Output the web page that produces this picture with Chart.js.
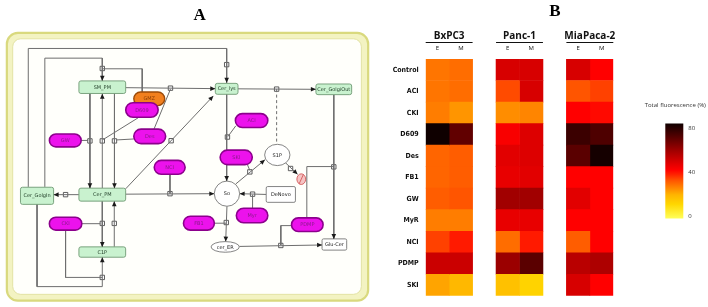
<!DOCTYPE html>
<html>
<head>
<meta charset="utf-8">
<script src="https://cdn.jsdelivr.net/npm/chart.js@4.4.0/dist/chart.umd.min.js"></script>
<style>
body { margin: 0; background: #fff; }
#wrapA { position: absolute; left: 0; top: 0; width: 376px; height: 307px; }
#wrapB { position: absolute; left: 376px; top: 0; width: 332px; height: 307px; }
</style>
</head>
<body>
<div id="wrapA"><canvas id="network-chart"></canvas></div>
<div id="wrapB"><canvas id="heatmap-chart"></canvas></div>
<script>
// ---- PANEL B data : total fluorescence (%) ----
const rowLabels = ['Control', 'ACI', 'CKI', 'D609', 'Des', 'FB1', 'GW', 'MyR', 'NCI', 'PDMP', 'SKI'];
const cellLines = ['BxPC3', 'Panc-1', 'MiaPaca-2'];
const conditions = ['E', 'M'];
const bxpc3E   = [28, 28, 27, 80, 30, 30, 31, 27, 34, 50, 22];
const bxpc3M   = [29, 29, 24, 67, 31, 31, 32, 27, 38, 50, 19];
const panc1E   = [48, 33, 25, 42, 46, 45, 57, 45, 29, 58, 17];
const panc1M   = [48, 48, 26, 47, 47, 46, 57, 45, 38, 68, 13];
const miapacaE = [48, 32, 41, 73, 68, 41, 46, 41, 31, 53, 48];
const miapacaM = [41, 34, 40, 70, 79, 41, 41, 41, 41, 55, 41];
const colorbarTicks = [0, 40, 80];
const colorbarTitle = 'Total fluorescence (%)';

// ---- PANEL A : network diagram (layout in diagram units = px) ----
const nodes = [
  { label: 'SM_PM', x: 100, y: 85, w: 48, h: 13, kind: 'comp' },
  { label: 'Cer_lys', x: 227.7, y: 86.7, w: 23.3, h: 11.3, kind: 'comp' },
  { label: 'Cer_GolgiOut', x: 337.7, y: 87.2, w: 36.7, h: 11, kind: 'comp' },
  { label: 'Cer_GolgIn', x: 33, y: 197.2, w: 34, h: 17.7, kind: 'comp' },
  { label: 'Cer_PM', x: 100, y: 196, w: 48, h: 13.4, kind: 'comp' },
  { label: 'C1P', x: 100, y: 255.3, w: 48, h: 10.7, kind: 'comp' },
  { label: 'GMZ', x: 148.2, y: 97, w: 31.7, h: 14, kind: 'orange' },
  { label: 'D609', x: 140.7, y: 108.5, w: 33.3, h: 15, kind: 'drug' },
  { label: 'Des', x: 148.7, y: 135.8, w: 32.7, h: 15, kind: 'drug' },
  { label: 'GW', x: 62, y: 140, w: 32.6, h: 13.4, kind: 'drug' },
  { label: 'ACI', x: 253.3, y: 119.5, w: 33.3, h: 14.4, kind: 'drug' },
  { label: 'SKI', x: 237.5, y: 157.5, w: 33, h: 15, kind: 'drug' },
  { label: 'NCI', x: 169.2, y: 167.8, w: 31.7, h: 14.3, kind: 'drug' },
  { label: 'CKI', x: 62.3, y: 226, w: 33.3, h: 13.4, kind: 'drug' },
  { label: 'FB1', x: 199.2, y: 225.5, w: 31.7, h: 14.4, kind: 'drug' },
  { label: 'Myr', x: 253.8, y: 217.5, w: 32.3, h: 15, kind: 'drug' },
  { label: 'PDMP', x: 310.5, y: 227, w: 32.4, h: 14, kind: 'drug' },
  { label: 'DeNovo', x: 283.3, y: 195.8, w: 30, h: 16.3, kind: 'box' },
  { label: 'Glu-Cer', x: 338.3, y: 247.5, w: 25.3, h: 11.6, kind: 'box' },
  { label: 'So', x: 228, y: 195, w: 26, h: 26, kind: 'oval' },
  { label: 'S1P', x: 279.7, y: 155, w: 26, h: 22, kind: 'oval' },
  { label: 'cer_ER', x: 226.2, y: 250, w: 29, h: 11, kind: 'oval' },
  { label: '', x: 304.3, y: 180, w: 9, h: 11, kind: 'sink' }
];

const edges = [
  { pts: [[24, 188], [24, 45], [227.7, 45], [227.7, 80.5]], arrow: true },
  { pts: [[41, 188], [41, 55], [100, 55], [100, 78.3]], arrow: true },
  { pts: [[100, 66], [141, 66], [141, 90]] },
  { pts: [[124, 85.5], [216, 86.5]], arrow: true },
  { pts: [[153, 128.5], [170, 87]] },
  { pts: [[239.3, 86.7], [319.3, 87.2]], arrow: true },
  { pts: [[279, 87], [279, 144]], dash: true },
  { pts: [[337.7, 92.7], [337.7, 241.7]], arrow: true },
  { pts: [[310, 220], [310, 167], [337.7, 167]] },
  { pts: [[294.3, 228], [283.3, 228], [283.3, 248]] },
  { pts: [[240.7, 249.5], [325.7, 248]], arrow: true },
  { pts: [[227.7, 92.3], [227.7, 182]], arrow: true },
  { pts: [[237, 125], [229, 136]] },
  { pts: [[237, 185], [267, 160]], arrow: true },
  { pts: [[249, 165], [251.5, 171]] },
  { pts: [[288, 163], [300.5, 175]], arrow: true },
  { pts: [[124, 195.5], [215, 195]], arrow: true },
  { pts: [[169.5, 175], [169.5, 195]] },
  { pts: [[124, 190], [214, 94]], arrow: true },
  { pts: [[136.7, 116.7], [101, 139]] },
  { pts: [[132.3, 138.5], [114.5, 139.5]] },
  { pts: [[78.3, 140], [85.5, 140]] },
  { pts: [[87.3, 91.7], [87.3, 189.3]], arrow: true },
  { pts: [[100, 189.3], [100, 91.7]], arrow: true },
  { pts: [[112.5, 91.7], [112.5, 189.3]], arrow: true },
  { pts: [[76, 196], [50, 196]], arrow: true },
  { pts: [[100, 202.7], [100, 250]], arrow: true },
  { pts: [[112.3, 250], [112.3, 202.7]], arrow: true },
  { pts: [[79, 226], [98, 226]] },
  { pts: [[62.3, 232.7], [62.3, 281.5], [100, 281.5]] },
  { pts: [[33, 206], [33, 291], [100, 291], [100, 260.7]], arrow: true },
  { pts: [[268.3, 195.8], [241, 195]], arrow: true },
  { pts: [[254.3, 210], [254.3, 196]] },
  { pts: [[228, 208], [226.7, 244.5]], arrow: true },
  { pts: [[215, 225.5], [227, 225.5]] }
];

const reactions = [
  [100, 65.7], [227.7, 61.7], [170, 86], [279, 87], [87.3, 140.5], [100, 140.5],
  [112.5, 140.5], [170.7, 140.3], [228.5, 136.5], [251.5, 172.5], [293.3, 169],
  [337.7, 167.3], [62.3, 196], [169.5, 195], [254.3, 195.5], [100, 225.7],
  [112.3, 225.7], [227.3, 224.8], [283.3, 248.5], [100, 281.5]
];

// colour map of panel B (value -> rgb)
const heatStops = [
  [0, [255, 255, 90]], [12, [255, 215, 0]], [20, [255, 180, 0]], [27, [255, 125, 0]],
  [32, [255, 85, 0]], [37, [255, 35, 0]], [41, [255, 0, 0]], [48, [215, 0, 0]],
  [58, [155, 0, 0]], [68, [90, 0, 0]], [80, [15, 0, 0]]
];
function heatColor(v) {
  v = Math.max(0, Math.min(80, v));
  for (let i = 1; i < heatStops.length; i++) {
    const [v1, c1] = heatStops[i];
    const [v0, c0] = heatStops[i - 1];
    if (v <= v1) {
      const t = (v - v0) / (v1 - v0);
      const c = c0.map((a, k) => Math.round(a + (c1[k] - a) * t));
      return 'rgb(' + c.join(',') + ')';
    }
  }
  return 'rgb(15,0,0)';
}

// ================= PANEL A =================
const networkPlugin = {
  id: 'network',
  beforeDatasetsDraw(chart) {
    const ctx = chart.ctx;
    const X = v => chart.scales.x.getPixelForValue(v);
    const Y = v => chart.scales.y.getPixelForValue(v);
    ctx.save();
    // title
    ctx.font = 'bold 17px "Liberation Serif", serif';
    ctx.fillStyle = '#000';
    ctx.textAlign = 'center';
    ctx.textBaseline = 'middle';
    ctx.fillText('A', X(200), Y(11));
    // frame
    ctx.beginPath();
    ctx.roundRect(X(2), Y(29), X(373) - X(2), Y(305.5) - Y(29), 11);
    ctx.fillStyle = '#f3f3c2';
    ctx.fill();
    ctx.lineWidth = 2.2;
    ctx.strokeStyle = '#d9d97e';
    ctx.stroke();
    ctx.beginPath();
    ctx.roundRect(X(8), Y(35), X(366) - X(8), Y(299) - Y(35), 8);
    ctx.fillStyle = '#fffffb';
    ctx.fill();
    ctx.lineWidth = 1;
    ctx.strokeStyle = '#e3e3a4';
    ctx.stroke();
    ctx.restore();
  },
  afterDatasetsDraw(chart) {
    const ctx = chart.ctx;
    const X = v => chart.scales.x.getPixelForValue(v);
    const Y = v => chart.scales.y.getPixelForValue(v);
    ctx.save();
    nodes.forEach(n => {
      const x0 = X(n.x - n.w / 2), y0 = Y(n.y - n.h / 2);
      const w = X(n.x + n.w / 2) - x0, h = Y(n.y + n.h / 2) - y0;
      ctx.beginPath();
      let textColor = '#222';
      if (n.kind === 'comp') {
        ctx.roundRect(x0, y0, w, h, 2);
        ctx.fillStyle = '#c9f2cf';
        ctx.strokeStyle = '#6f9a74';
        ctx.lineWidth = 0.9;
        textColor = '#23402a';
      } else if (n.kind === 'drug') {
        ctx.roundRect(x0, y0, w, h, h / 2);
        ctx.fillStyle = '#ec12ec';
        ctx.strokeStyle = '#8c008c';
        ctx.lineWidth = 1.6;
        textColor = '#8a1a8a';
      } else if (n.kind === 'orange') {
        ctx.roundRect(x0, y0, w, h, h / 2);
        ctx.fillStyle = '#f2801e';
        ctx.strokeStyle = '#9b4a08';
        ctx.lineWidth = 1.4;
        textColor = '#8a3c06';
      } else if (n.kind === 'box') {
        ctx.roundRect(x0, y0, w, h, 1.5);
        ctx.fillStyle = '#fff';
        ctx.strokeStyle = '#777';
        ctx.lineWidth = 0.9;
      } else if (n.kind === 'oval') {
        ctx.ellipse(X(n.x), Y(n.y), w / 2, h / 2, 0, 0, Math.PI * 2);
        ctx.fillStyle = '#fff';
        ctx.strokeStyle = '#777';
        ctx.lineWidth = 0.9;
      } else if (n.kind === 'sink') {
        ctx.ellipse(X(n.x), Y(n.y), w / 2, h / 2, 0, 0, Math.PI * 2);
        ctx.fillStyle = '#f6c4c4';
        ctx.strokeStyle = '#d25a5a';
        ctx.lineWidth = 0.9;
      }
      ctx.fill();
      ctx.stroke();
      if (n.kind === 'sink') {
        ctx.beginPath();
        ctx.moveTo(x0 + w * 0.25, y0 + h * 0.95);
        ctx.lineTo(x0 + w * 0.75, y0 + h * 0.05);
        ctx.stroke();
      }
      if (n.label) {
        ctx.font = '5px "DejaVu Sans", sans-serif';
        ctx.fillStyle = textColor;
        ctx.textAlign = 'center';
        ctx.textBaseline = 'middle';
        ctx.fillText(n.label, X(n.x), Y(n.y) + 0.3);
      }
    });
    // arrow heads
    chart.data.datasets.forEach((ds, i) => {
      if (!ds.arrow) return;
      const pts = chart.getDatasetMeta(i).data;
      const a = pts[pts.length - 2], b = pts[pts.length - 1];
      const ang = Math.atan2(b.y - a.y, b.x - a.x);
      const L = 5, H = 2.3;
      ctx.beginPath();
      ctx.moveTo(b.x, b.y);
      ctx.lineTo(b.x - L * Math.cos(ang) + H * Math.sin(ang), b.y - L * Math.sin(ang) - H * Math.cos(ang));
      ctx.lineTo(b.x - L * Math.cos(ang) - H * Math.sin(ang), b.y - L * Math.sin(ang) + H * Math.cos(ang));
      ctx.closePath();
      ctx.fillStyle = '#1a1a1a';
      ctx.fill();
    });
    ctx.restore();
  }
};

const edgeSets = edges.map(e => ({
  data: e.pts.map(p => ({ x: p[0], y: p[1] })),
  showLine: true,
  borderColor: '#6e6e6e',
  borderWidth: 1,
  borderDash: e.dash ? [3, 2.5] : [],
  pointRadius: 0,
  arrow: !!e.arrow,
  clip: false
}));

new Chart(document.getElementById('network-chart'), {
  type: 'scatter',
  data: {
    datasets: edgeSets.concat([{
      data: reactions.map(r => ({ x: r[0], y: r[1] })),
      pointStyle: 'rect',
      pointRadius: 3.1,
      backgroundColor: '#ffffff',
      borderColor: '#4d4d4d',
      borderWidth: 0.9,
      showLine: false,
      clip: false
    }])
  },
  options: {
    responsive: true,
    maintainAspectRatio: false,
    animation: false,
    layout: { padding: 0 },
    plugins: { legend: { display: false }, tooltip: { enabled: false } },
    scales: {
      x: { type: 'linear', min: 0, max: 376, display: false },
      y: { type: 'linear', min: 0, max: 307, reverse: true, display: false }
    }
  },
  plugins: [networkPlugin]
});

// ================= PANEL B =================
const columnValues = [[bxpc3E, bxpc3M], [panc1E, panc1M], [miapacaE, miapacaM]];
const heatSets = [];
columnValues.forEach((pair, g) => {
  pair.forEach((vals, k) => {
    const col = g * 3 + k;
    heatSets.push({
      label: cellLines[g] + ' ' + conditions[k],
      data: rowLabels.map(() => [col, col + 1]),
      backgroundColor: vals.map(heatColor),
      borderWidth: 0,
      barPercentage: 1,
      categoryPercentage: 1,
      grouped: false
    });
  });
});

const heatDecor = {
  id: 'heatDecor',
  afterDraw(chart) {
    const ctx = chart.ctx, xs = chart.scales.x, area = chart.chartArea;
    ctx.save();
    ctx.fillStyle = '#000';
    ctx.textAlign = 'center';
    ctx.textBaseline = 'middle';
    ctx.font = 'bold 17px "Liberation Serif", serif';
    ctx.fillText('B', 179, 12);

    // column headers
    cellLines.forEach((name, g) => {
      const c0 = g * 3;
      const xl = xs.getPixelForValue(c0), xr = xs.getPixelForValue(c0 + 2);
      ctx.font = 'bold 10px "Open Sans", sans-serif';
      ctx.fillStyle = '#111';
      ctx.fillText(name, (xl + xr) / 2, area.top - 23);
      ctx.beginPath();
      ctx.moveTo(xl, area.top - 16.5);
      ctx.lineTo(xr, area.top - 16.5);
      ctx.lineWidth = 1;
      ctx.strokeStyle = '#111';
      ctx.stroke();
      ctx.font = '6px "Open Sans", sans-serif';
      conditions.forEach((c, k) => {
        ctx.fillText(c, xs.getPixelForValue(c0 + k + 0.5), area.top - 11);
      });
    });

    // colour bar
    const bx = area.right + 52, bw = 18, top = 123.5, bot = 218.5;
    const grad = ctx.createLinearGradient(0, bot, 0, top);
    heatStops.forEach(s => grad.addColorStop(s[0] / 80, heatColor(s[0])));
    ctx.fillStyle = grad;
    ctx.fillRect(bx, top, bw, bot - top);
    ctx.fillStyle = '#333';
    ctx.font = '6px "Open Sans", sans-serif';
    ctx.fillText(colorbarTitle, bx + 10, 105);
    ctx.textAlign = 'left';
    colorbarTicks.forEach(t => {
      ctx.fillText(String(t), bx + 23, 216 - t * 88 / 80);
    });
    ctx.restore();
  }
};

new Chart(document.getElementById('heatmap-chart'), {
  type: 'bar',
  data: { labels: rowLabels, datasets: heatSets },
  options: {
    indexAxis: 'y',
    responsive: true,
    maintainAspectRatio: false,
    animation: false,
    layout: { padding: { left: 0, right: 94.7, top: 59, bottom: 10 } },
    plugins: { legend: { display: false }, tooltip: { enabled: false } },
    scales: {
      x: { type: 'linear', min: 0, max: 8, display: false },
      y: {
        type: 'category',
        grid: { display: false, drawTicks: false },
        border: { display: false },
        afterFit(scale) { scale.width = 49.7; },
        ticks: {
          autoSkip: false,
          padding: 7,
          color: '#111',
          font: { family: '"Liberation Sans Narrow", "DejaVu Sans Condensed", sans-serif', size: 7, weight: 'bold' }
        }
      }
    }
  },
  plugins: [heatDecor]
});
</script>
</body>
</html>
